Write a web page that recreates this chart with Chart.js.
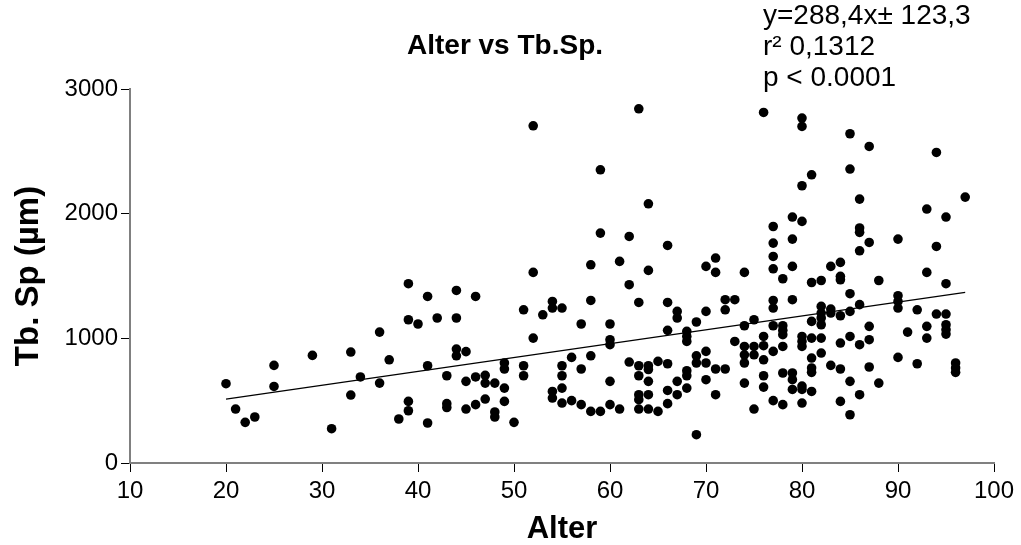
<!DOCTYPE html>
<html>
<head>
<meta charset="utf-8">
<script src="https://cdn.jsdelivr.net/npm/chart.js@4.4.1/dist/chart.umd.min.js"></script>
<style>
  html, body { margin: 0; padding: 0; background: #fff; }
  #wrap { width: 1021px; height: 545px; }
</style>
</head>
<body>
<div id="wrap"><canvas id="c" width="1021" height="545"></canvas></div>
<script>
// ---- data ----
const ages = [20,21,22,23,25,29,31,33,34,36,37,38,39,40,41,42,43,44,45,46,47,48,49,50,
  51,52,53,54,55,56,57,58,59,60,61,62,63,64,65,66,67,68,69,70,71,72,73,74,75,76,77,78,79,80,
  81,82,83,84,85,86,87,88,90,91,92,93,94,95,96,97];
const tbSp = [
  [636],[433],[326],[369],[783,614],[863],[275],[890,545],[690],[1050,641],[828],[353],
  [1438,1149,494,419],[1115],[1336,780,321],[1163],[700,476,445],[1384,1163,914,860],
  [893,655,433],[1336,690,468],[703,641,513],[641,409,369],[802,754,601,494],[326],
  [1229,780,700],[2705,1529,1002],[1189],[1296,1243,574,521],[1243,780,700,601,481],
  [847,500],[1115,754,468],[1590,1304,860,414],[2352,1844,414],[1115,989,949,655,468],
  [1617,433],[1817,1430,810],[2841,1288,780,700,548,508,433],[2079,1545,780,750,655,548,433],
  [815,414],[1745,1288,1064,796,582,476],[1216,1163,655,548],[1056,1015,975,740,700,601],
  [1131,860,802,227],[1577,1216,895,802,668],[1644,1529,754,548],[1310,1229,754],[1310,975],
  [1529,1101,935,868,802,641],[1149,935,868,433],[2812,1015,941,828,700,609],
  [1897,1764,1657,1558,1304,1243,1101,895,500],[1478,1101,1064,1029,935,722,468],
  [1973,1796,1577,1310,722,668,590],[2767,2700,2224,1938,1015,975,935,617,590,481],
  [2312,1448,1136,1002,842,762,727,574],[1464,1256,1203,1163,1109,1002,882],
  [1577,1235,1203,783],[1609,1497,1470,1181,962,754,494],[2641,2358,1358,1216,1015,655,387],
  [2117,1885,1850,1702,1270,949,548],[2539,1769,1096,989,770],[1464,641],
  [1796,1342,1296,1243,847],[1050],[1229,796],[2037,1529,1096,1002],[2491,1737,1195],
  [1973,1438,1195,1109,1069,1034],[802,762,727],[2133]
];
const fitX = [20, 97];
const fitY = [513, 1368];
const xTicks = [10,20,30,40,50,60,70,80,90,100];
const yTicks = [0,1000,2000,3000];
const titleText = 'Alter vs Tb.Sp.';
const statLines = ['y=288,4x\u00B1 123,3', 'r\u00B2 0,1312', 'p < 0.0001'];

// ---- build datasets ----
const points = [];
ages.forEach((a, i) => tbSp[i].forEach(v => points.push({x: a, y: v})));
const fitLine = fitX.map((x, i) => ({x: x, y: fitY[i]}));

const FONT = '"Liberation Sans", Arial, sans-serif';

const textPlugin = {
  id: 'texts',
  afterDraw(chart) {
    const ctx = chart.ctx;
    ctx.save();
    ctx.fillStyle = '#000';
    ctx.textBaseline = 'middle';
    ctx.textAlign = 'center';
    ctx.font = 'bold 28px ' + FONT;
    ctx.fillText(titleText, 505, 46);
    ctx.textAlign = 'left';
    ctx.font = '28px ' + FONT;
    ctx.fillText(statLines[0], 763, 16);
    ctx.fillText(statLines[1], 763, 47);
    ctx.fillText(statLines[2], 763, 78);
    ctx.restore();
  }
};

new Chart(document.getElementById('c'), {
  type: 'scatter',
  data: {
    datasets: [
      {
        data: points,
        backgroundColor: '#000',
        borderColor: '#000',
        borderWidth: 0,
        pointRadius: 4.8,
        pointHoverRadius: 4.8
      },
      {
        type: 'line',
        data: fitLine,
        borderColor: '#000',
        borderWidth: 1.3,
        pointRadius: 0,
        fill: false,
        tension: 0
      }
    ]
  },
  options: {
    responsive: false,
    animation: false,
    devicePixelRatio: 1,
    layout: { padding: { top: 89, right: 27, left: 0, bottom: 0 } },
    plugins: { legend: { display: false }, tooltip: { enabled: false }, title: { display: false } },
    scales: {
      x: {
        type: 'linear',
        min: 10, max: 100,
        afterBuildTicks: s => { s.ticks = xTicks.map(v => ({value: v})); },
        afterFit: s => { s.height = 82; },
        grid: { drawOnChartArea: false, drawTicks: true, tickLength: 9, tickColor: '#000', tickWidth: 1 },
        border: { display: true, color: '#808080', width: 2 },
        ticks: { color: '#000', font: { family: FONT, size: 24 }, padding: 5, maxRotation: 0, autoSkip: false,
                 callback: v => String(v) },
        title: { display: true, text: 'Alter', color: '#000', font: { family: FONT, size: 31, weight: 'bold', lineHeight: 1 }, padding: { top: 0, bottom: 0 } }
      },
      y: {
        type: 'linear',
        min: 0, max: 3000,
        afterBuildTicks: s => { s.ticks = yTicks.map(v => ({value: v})); },
        afterFit: s => { s.width = 130; },
        grid: { drawOnChartArea: false, drawTicks: true, tickLength: 9, tickColor: '#000', tickWidth: 1 },
        border: { display: true, color: '#808080', width: 2 },
        ticks: { color: '#000', font: { family: FONT, size: 24 }, padding: 3, autoSkip: false,
                 callback: v => String(v) },
        title: { display: true, text: 'Tb. Sp (\u00B5m)', color: '#000', font: { family: FONT, size: 33, weight: 'bold' }, padding: { top: 9, bottom: 0 } }
      }
    }
  },
  plugins: [textPlugin]
});
</script>
</body>
</html>
